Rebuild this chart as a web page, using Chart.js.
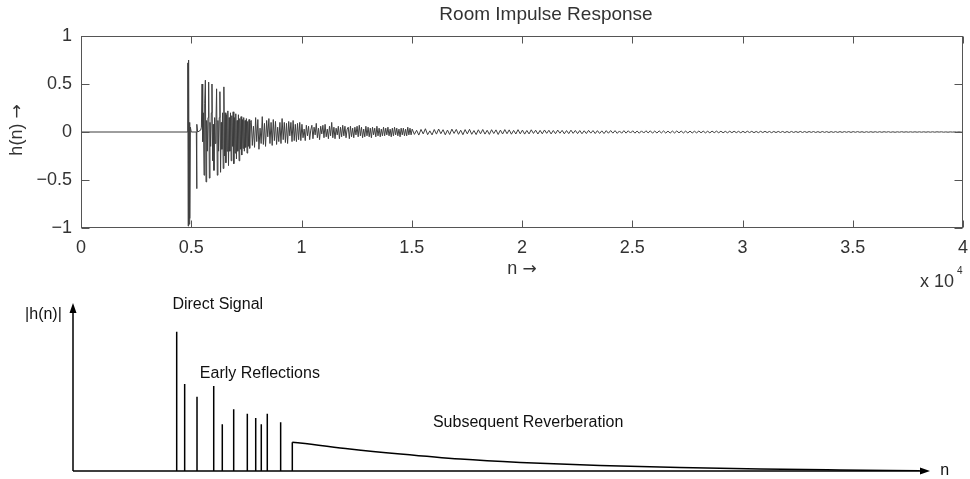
<!DOCTYPE html>
<html>
<head>
<meta charset="utf-8">
<script src="https://cdn.jsdelivr.net/npm/chart.js@4.4.1/dist/chart.umd.min.js"></script>
<style>
    html, body { margin: 0; padding: 0; background: #fff; }
    #wrap { position: relative; width: 970px; height: 479px; }
    canvas { position: absolute; left: 0; }
    #rirChart { top: 0; }
    #sketchChart { top: 290px; }
</style>
</head>
<body>
<div id="wrap">
    <canvas id="rirChart" width="970" height="290"></canvas>
    <canvas id="sketchChart" width="970" height="189"></canvas>
</div>
<script>

const plotTitle   = 'Room Impulse Response';
const xAxisName   = 'n';
const yAxisName   = 'h(n)';
const xTickLabels = ['0', '0.5', '1', '1.5', '2', '2.5', '3', '3.5', '4'];
const yTickLabels = ['\u22121', '\u22120.5', '0', '0.5', '1'];
const xExponent   = '4';

// silence, direct sound and the first isolated reflection
const onsetN = [0, 4830, 4845, 4860, 4880, 4900, 4920, 4940, 4960, 5000, 5230, 5245, 5260, 5290, 5430];
const onsetH = [0, 0, 0.72, -0.98, 0.75, -0.96, 0.1, -0.9, 0.05, 0, 0, -0.59, 0.08, 0, 0.02];

// early reflection cluster, one value every 30 samples
const earlyStart = 5460, earlyStep = 30;
const earlyH = [
    0.05, 0.5, -0.1, 0.2, -0.45, 0.3, 0.54, -0.52, 0.12, -0.2,
    0.15, 0.52, -0.48, 0.1, -0.15, 0.2, 0.5, -0.3, 0.08, -0.4,
    0.15, -0.12, 0.1, 0.45, -0.45, 0.12, -0.2, 0.15, 0.42, -0.42,
    0.1, -0.18, 0.2, -0.38, 0.47, -0.25, 0.2, -0.32, 0.18, -0.2,
    0.22, -0.35, 0.15, -0.2, 0.2, -0.3, 0.17, -0.15, 0.21, -0.33,
    0.15, -0.22, 0.19, -0.28, 0.12, -0.2, 0.18, -0.3, 0.14, -0.18,
    0.16, -0.24, 0.13, -0.17, 0.15, -0.2, 0.12, -0.16, 0.14, -0.22,
    0.11, -0.15, 0.13, -0.17, 0.1
];

// dense decay, one value every 50 samples
const decayStart = 7720, decayStep = 50;
const decayH = [
    0.12, -0.14, 0.06, -0.16, 0.15, -0.1, 0.13, -0.18, 0.04, -0.12,
    0.16, -0.13, 0.09, -0.15, 0.12, -0.05, 0.14, -0.12, 0.1, -0.14,
    0.13, -0.09, 0.11, -0.13, 0.05, -0.1, 0.1, -0.12, 0.14, -0.08,
    0.1, -0.11, 0.09, -0.12, 0.11, -0.04, 0.1, -0.1, 0.12, -0.09,
    0.08, -0.1, 0.09, -0.08, 0.1, -0.09
];

// later decay, one value every 50 samples
const lateStart = 10020, lateStep = 50;
const lateH = [
    0.08, -0.06, 0.03, -0.09, 0.07, -0.04, 0.06, -0.08, 0.02, 0.07,
    -0.07, 0.05, -0.03, 0.09, -0.06, 0.04, -0.08, 0.06, -0.02, 0.07,
    -0.06, 0.08, -0.05, 0.03, -0.07, 0.06, -0.04, 0.1, -0.06, 0.05,
    -0.07, 0.04, -0.03, 0.06, -0.07, 0.05, -0.05, 0.07, -0.04, 0.06,
    -0.06, 0.03, 0.05, -0.07, 0.06, -0.05, 0.04, -0.06, 0.05, -0.03,
    0.06, -0.05, 0.07, -0.04, 0.05, -0.06, 0.03, -0.05, 0.06, -0.04,
    0.05, -0.05, 0.04, -0.06, 0.05, -0.03, 0.04, -0.05, 0.06, -0.04,
    0.04, -0.05, 0.03, -0.04, 0.05, -0.04, 0.04, -0.03, 0.05, -0.04,
    0.03, -0.05, 0.04, -0.04, 0.05, -0.03, 0.04, -0.04, 0.03, -0.05,
    0.04, -0.03, 0.04, -0.04, 0.03, -0.04, 0.05, -0.03, 0.04, -0.03
];

// reverberant tail, one value every 100 samples
const tailStart = 15020, tailStep = 100;
const tailH = [
    0.03, -0.025, 0.018, -0.032, 0.027, -0.02, 0.034, -0.028, 0.012, -0.03,
    0.026, -0.022, 0.031, -0.018, 0.024, -0.029, 0.02, -0.026, 0.03, -0.015,
    0.027, -0.024, 0.019, -0.028, 0.025,
    -0.02, 0.028, -0.024, 0.015, -0.027, 0.023, -0.019, 0.026, -0.022, 0.018,
    -0.025, 0.024, -0.016, 0.022, -0.026, 0.02, -0.021, 0.025, -0.018, 0.022,
    -0.023, 0.017, -0.021, 0.024, -0.019,
    0.02, -0.022, 0.016, -0.02, 0.023, -0.015, 0.019, -0.021, 0.017, -0.019,
    0.021, -0.014, 0.018, -0.02, 0.016, -0.018, 0.02, -0.013, 0.017, -0.019,
    0.015, -0.017, 0.019, -0.014, 0.016,
    -0.017, 0.015, -0.018, 0.013, -0.016, 0.017, -0.012, 0.015, -0.016, 0.014,
    -0.015, 0.012, -0.016, 0.014, -0.013, 0.015, -0.012, 0.014, -0.014, 0.011,
    -0.013, 0.014, -0.012, 0.013, -0.011,
    0.013, -0.012, 0.01, -0.013, 0.012, -0.011, 0.013, -0.009, 0.012, -0.012,
    0.01, -0.011, 0.012, -0.01, 0.011, -0.011, 0.009, -0.011, 0.01, -0.01,
    0.011, -0.009, 0.01, -0.01, 0.009,
    -0.01, 0.009, -0.01, 0.008, -0.009, 0.01, -0.008, 0.009, -0.009, 0.008,
    -0.009, 0.009, -0.007, 0.009, -0.008, 0.008, -0.008, 0.007, -0.008, 0.008,
    -0.007, 0.008, -0.007, 0.007, -0.008,
    0.007, -0.007, 0.008, -0.006, 0.007, -0.007, 0.006, -0.007, 0.007, -0.006,
    0.007, -0.006, 0.006, -0.007, 0.006, -0.006, 0.006, -0.005, 0.006, -0.006,
    0.005, -0.006, 0.006, -0.005, 0.005,
    -0.005, 0.006, -0.005, 0.005, -0.005, 0.005, -0.004, 0.005, -0.005, 0.004,
    -0.005, 0.005, -0.004, 0.004, -0.005, 0.004, -0.004, 0.004, -0.004, 0.004,
    -0.004, 0.004, -0.003, 0.004, -0.004,
    0.004, -0.003, 0.004, -0.003, 0.003, -0.004, 0.003, -0.003, 0.003, -0.003,
    0.003, -0.003, 0.003, -0.003, 0.003, -0.002, 0.003, -0.003, 0.002, -0.003,
    0.002, -0.002, 0.003, -0.002, 0.002,
    -0.002, 0.002, -0.002, 0.002, -0.002, 0.002, -0.002, 0.002, -0.002, 0.002,
    -0.002, 0.002, -0.002, 0.002, -0.001, 0.002, -0.002, 0.001, -0.002, 0.001,
    -0.001, 0.001, -0.001, 0.001, -0.001
];
const endN = 40000;

// ─── Bottom sketch: schematic |h(n)| ─────────────────────────────────────────

const spikeX = [12.1, 13.03, 14.47, 16.42, 17.42, 18.75, 20.34, 21.32, 21.97, 22.67, 24.23, 25.59];
const spikeH = [82.9, 51.8, 44.2, 50.6, 27.8, 36.7, 34.1, 31.5, 27.8, 34.1, 29.0, 17.1];
const reverbX = [25.59, 26.5, 32.3, 38.2, 45.2, 52.2, 61.5, 70.8, 80.2, 89.5, 98.8];
const reverbY = [17.1, 16.7, 13.1, 10.1, 7.1, 5.1, 3.3, 2.1, 1.2, 0.6, 0.1];
const sketchLabels = ['|h(n)|', 'Direct Signal', 'Early Reflections', 'Subsequent Reverberation', 'n'];

// where each sketch label sits, in sketch data units
const sketchLabelPos = [
    { x: -1.3,  y: 93,   align: 'right' },
    { x: 11.6,  y: 98.8, align: 'left' },
    { x: 14.8,  y: 57.7, align: 'left' },
    { x: 42.0,  y: 28.6, align: 'left' },
    { x: 101.2, y: 0,    align: 'left' }
];

const FONT  = '"Liberation Sans", Arial, Helvetica, sans-serif';
const ARROW = '"DejaVu Sans", sans-serif';
const textColor = '#333';

// ─── Helpers ─────────────────────────────────────────────────────────────────

function gridSeries(start, step, values) {
    return values.map((h, i) => ({ x: start + i * step, y: h }));
}

const rirPoints = [
    ...onsetN.map((n, i) => ({ x: n, y: onsetH[i] })),
    ...gridSeries(earlyStart, earlyStep, earlyH),
    ...gridSeries(decayStart, decayStep, decayH),
    ...gridSeries(lateStart, lateStep, lateH),
    ...gridSeries(tailStart, tailStep, tailH),
    { x: endN, y: 0 }
];

/** Draw "name →" centred on (cx, cy), the arrow taken from DejaVu Sans. */
function arrowLabel(ctx, name, cx, cy, rotate) {
    ctx.save();
    ctx.translate(cx, cy);
    if (rotate) ctx.rotate(-Math.PI / 2);
    ctx.font = '18px ' + FONT;
    const w1 = ctx.measureText(name + ' ').width;
    ctx.font = '17px ' + ARROW;
    const w2 = ctx.measureText('\u2192').width;
    let x = -(w1 + w2) / 2;
    ctx.textAlign = 'left';
    ctx.textBaseline = 'middle';
    ctx.font = '18px ' + FONT;
    ctx.fillText(name + ' ', x, 0);
    ctx.font = '17px ' + ARROW;
    ctx.fillText('\u2192', x + w1, 1);
    ctx.restore();
}

// MATLAB-style frame: box round the axes, inward ticks, title and axis names
const matlabFrame = {
    id: 'matlabFrame',
    afterDraw(chart) {
        const { ctx, chartArea: a, scales: { x, y } } = chart;
        const L = Math.round(a.left) + 0.5, R = Math.round(a.right) - 0.5;
        const T = Math.round(a.top) + 0.5,  B = Math.round(a.bottom) - 0.5;
        ctx.save();
        ctx.strokeStyle = '#555';
        ctx.lineWidth = 1;
        ctx.beginPath();
        x.ticks.forEach(t => {
            const px = Math.round(x.getPixelForValue(t.value)) + 0.5;
            ctx.moveTo(px, B); ctx.lineTo(px, B - 7);
            ctx.moveTo(px, T); ctx.lineTo(px, T + 7);
        });
        y.ticks.forEach(t => {
            const py = Math.round(y.getPixelForValue(t.value)) + 0.5;
            ctx.moveTo(L, py); ctx.lineTo(L + 8, py);
            ctx.moveTo(R, py); ctx.lineTo(R - 8, py);
        });
        ctx.stroke();
        ctx.strokeRect(L, T, R - L, B - T);

        ctx.fillStyle = textColor;

        // title, centred a little right of the axes as in the figure
        ctx.font = '19px ' + FONT;
        ctx.textAlign = 'center';
        ctx.textBaseline = 'middle';
        ctx.fillText(plotTitle, 546, 15);

        // axis names
        arrowLabel(ctx, xAxisName, (a.left + a.right) / 2, 269, false);
        arrowLabel(ctx, yAxisName, 17, (a.top + a.bottom) / 2 - 2, true);

        // x 10^4 scale factor under the right end of the x axis
        ctx.textBaseline = 'alphabetic';
        ctx.textAlign = 'left';
        ctx.font = '18px ' + FONT;
        ctx.fillText('x 10', 920, 287);
        ctx.font = '10px ' + FONT;
        ctx.fillText(xExponent, 957, 274);
        ctx.restore();
    }
};

// arrowed axes and labels of the schematic
const sketchAxes = {
    id: 'sketchAxes',
    afterDraw(chart) {
        const { ctx, scales: { x, y } } = chart;
        const x0 = x.getPixelForValue(0), y0 = y.getPixelForValue(0);
        const xEnd = x.getPixelForValue(100), yEnd = y.getPixelForValue(100);
        ctx.save();
        ctx.strokeStyle = '#000';
        ctx.fillStyle = '#000';
        ctx.lineWidth = 1.5;
        ctx.beginPath();
        ctx.moveTo(x0, y0); ctx.lineTo(xEnd - 6, y0);
        ctx.moveTo(x0, y0); ctx.lineTo(x0, yEnd + 6);
        ctx.stroke();

        ctx.beginPath();
        ctx.moveTo(xEnd, y0); ctx.lineTo(xEnd - 10, y0 - 3.5); ctx.lineTo(xEnd - 10, y0 + 3.5); ctx.closePath();
        ctx.moveTo(x0, yEnd); ctx.lineTo(x0 - 3.5, yEnd + 10); ctx.lineTo(x0 + 3.5, yEnd + 10); ctx.closePath();
        ctx.fill();

        ctx.font = '16px ' + FONT;
        ctx.textBaseline = 'middle';
        ctx.fillStyle = '#111';
        sketchLabels.forEach((txt, i) => {
            const p = sketchLabelPos[i];
            ctx.textAlign = p.align;
            ctx.fillText(txt, x.getPixelForValue(p.x), y.getPixelForValue(p.y));
        });
        ctx.restore();
    }
};

// ─── Top chart ───────────────────────────────────────────────────────────────

new Chart(document.getElementById('rirChart'), {
    type: 'line',
    data: {
        datasets: [{
            data: rirPoints,
            borderColor: '#3d3d3d',
            borderWidth: 1,
            pointRadius: 0,
            tension: 0,
            fill: false
        }]
    },
    options: {
        responsive: false,
        animation: false,
        events: [],
        layout: { padding: { left: 0, right: 7, top: 36, bottom: 0 } },
        plugins: {
            legend: { display: false },
            tooltip: { enabled: false },
            title: { display: false }
        },
        scales: {
            x: {
                type: 'linear',
                min: 0,
                max: endN,
                grid: { display: false },
                border: { display: false },
                ticks: {
                    stepSize: 5000,
                    autoSkip: false,
                    maxRotation: 0,
                    padding: 1,
                    color: textColor,
                    font: { family: FONT, size: 18 },
                    callback: (v, i) => xTickLabels[i]
                },
                afterFit: (scale) => { scale.height = 62; }
            },
            y: {
                min: -1,
                max: 1,
                grid: { display: false },
                border: { display: false },
                ticks: {
                    stepSize: 0.5,
                    padding: 1,
                    color: textColor,
                    font: { family: FONT, size: 18 },
                    callback: (v, i) => yTickLabels[i]
                },
                afterFit: (scale) => { scale.width = 81; }
            }
        }
    },
    plugins: [matlabFrame]
});

// ─── Bottom chart ────────────────────────────────────────────────────────────

const spikePoints = [];
spikeX.forEach((x, i) => {
    spikePoints.push({ x, y: 0 }, { x, y: spikeH[i] }, { x, y: null });
});
const reverbPoints = reverbX.map((x, i) => ({ x, y: reverbY[i] }));

new Chart(document.getElementById('sketchChart'), {
    type: 'line',
    data: {
        datasets: [
            {
                data: spikePoints,
                borderColor: '#000',
                borderWidth: 1.5,
                borderJoinStyle: 'bevel',
                pointRadius: 0,
                tension: 0,
                spanGaps: false
            },
            {
                data: reverbPoints,
                borderColor: '#000',
                borderWidth: 1.5,
                pointRadius: 0,
                cubicInterpolationMode: 'monotone'
            }
        ]
    },
    options: {
        responsive: false,
        animation: false,
        events: [],
        layout: { padding: { left: 73, right: 40, top: 13, bottom: 8 } },
        plugins: {
            legend: { display: false },
            tooltip: { enabled: false },
            title: { display: false }
        },
        scales: {
            x: { type: 'linear', min: 0, max: 100, display: false },
            y: { type: 'linear', min: 0, max: 100, display: false }
        }
    },
    plugins: [sketchAxes]
});
</script>
</body>
</html>
